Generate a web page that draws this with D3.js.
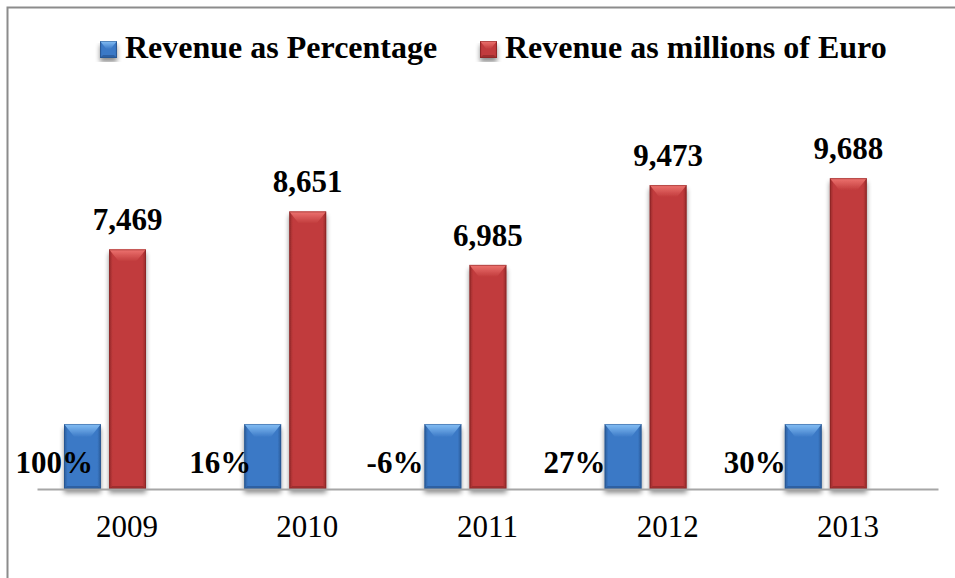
<!DOCTYPE html>
<html>
<head>
<meta charset="utf-8">
<script src="https://cdn.jsdelivr.net/npm/d3@7/dist/d3.min.js"></script>
<style>
  html, body { margin: 0; padding: 0; background: #fff; }
  svg { display: block; }
  text { font-family: "Liberation Serif", "Times New Roman", serif; fill: #000; }
</style>
</head>
<body>
<svg id="chart" width="955" height="578"></svg>
<script>
// Yearly revenue, 2009–2013
const years = ["2009", "2010", "2011", "2012", "2013"];
const revenueMillions = [7469, 8651, 6985, 9473, 9688];
const revenuePercent = ["100%", "16%", "-6%", "27%", "30%"];
// the percentage series is drawn as equal-height markers on the euro scale
const percentBarLevel = [2025, 2025, 2025, 2025, 2025];
const seriesNames = ["Revenue as Percentage", "Revenue as millions of Euro"];

// horizontal nudge of each percentage label relative to its bar's left edge
const pctLabelShift = [29, 7, -1, 1, 1];

const FONT = '"Liberation Serif", "Times New Roman", serif';
const svg = d3.select("#chart");
const W = 955, H = 578;

const palette = {
  pct: { body: "#3b79c6", light: "#86c0f6", dark: "#2a5a98", edge: "#244f87" },
  eur: { body: "#c13b3c", light: "#ee7470", dark: "#952a2b", edge: "#82201f" }
};

const defs = svg.append("defs");
const shadow = defs.append("filter").attr("id", "shadow")
  .attr("x", "-30%").attr("y", "-10%").attr("width", "160%").attr("height", "130%");
shadow.append("feGaussianBlur").attr("in", "SourceAlpha").attr("stdDeviation", 2.5);
shadow.append("feOffset").attr("dx", 0).attr("dy", 4).attr("result", "off");
shadow.append("feComponentTransfer").append("feFuncA").attr("type", "linear").attr("slope", 0.45);
const merge = shadow.append("feMerge");
merge.append("feMergeNode");
merge.append("feMergeNode").attr("in", "SourceGraphic");

// gradients for body and top bevel
Object.entries(palette).forEach(([k, c]) => {
  const g = defs.append("linearGradient").attr("id", "body-" + k)
    .attr("x1", 0).attr("x2", 1).attr("y1", 0).attr("y2", 0);
  g.append("stop").attr("offset", "0%").attr("stop-color", c.dark);
  g.append("stop").attr("offset", "10%").attr("stop-color", c.body);
  g.append("stop").attr("offset", "90%").attr("stop-color", c.body);
  g.append("stop").attr("offset", "100%").attr("stop-color", c.dark);
  const t = defs.append("linearGradient").attr("id", "top-" + k)
    .attr("x1", 0).attr("x2", 0).attr("y1", 0).attr("y2", 1);
  t.append("stop").attr("offset", "0%").attr("stop-color", c.light);
  t.append("stop").attr("offset", "100%").attr("stop-color", c.body);
});

// frame
svg.append("path")
  .attr("d", `M7.5,${H} L7.5,7.5 L${W},7.5`)
  .attr("fill", "none").attr("stroke", "#8c8c8c").attr("stroke-width", 2);

// scales
const x = d3.scaleBand().domain(years).range([37, 938]);
const x1 = d3.scaleBand().domain(["pct", "eur"]).range([27, 109]).paddingInner(0.18);
const y = d3.scaleLinear().domain([0, 12000]).range([489, 104]);

// draws a bevelled bar
function bevelBar(g, bx, by, bw, bh, key, topBevel) {
  const c = palette[key];
  const grp = g.append("g").attr("filter", "url(#shadow)");
  grp.append("rect").attr("x", bx).attr("y", by).attr("width", bw).attr("height", bh)
    .attr("fill", `url(#body-${key})`);
  const s = 3, tb = Math.min(topBevel, bh / 2), slant = Math.min(tb * 0.8, bw / 2 - 2);
  // top bevel: lighter cap with slanted inner sides
  grp.append("path")
    .attr("d", `M${bx},${by} L${bx + bw},${by} L${bx + bw - slant},${by + tb} L${bx + slant},${by + tb} Z`)
    .attr("fill", `url(#top-${key})`);
  // bottom bevel
  grp.append("path")
    .attr("d", `M${bx},${by + bh} L${bx + bw},${by + bh} L${bx + bw - s},${by + bh - s} L${bx + s},${by + bh - s} Z`)
    .attr("fill", c.dark).attr("opacity", 0.8);
  grp.append("rect").attr("x", bx + 0.5).attr("y", by + 0.5).attr("width", bw - 1).attr("height", bh - 1)
    .attr("fill", "none").attr("stroke", c.edge).attr("stroke-width", 1).attr("opacity", 0.5);
}

const plot = svg.append("g");

// axis line and year labels
const axis = svg.append("g").attr("transform", "translate(0,489)")
  .call(d3.axisBottom(x).tickSize(0).tickPadding(26).tickSizeOuter(0));
axis.attr("font-family", FONT);
axis.select(".domain").attr("stroke", "#a6a6a6").attr("stroke-width", 2);
axis.selectAll("text")
  .style("font-family", FONT)
  .attr("font-size", 31).attr("fill", "#000");

years.forEach((yr, i) => {
  const g = plot.append("g").attr("transform", `translate(${x(yr)},0)`);
  const bw = x1.bandwidth();
  // percentage marker
  const py = y(percentBarLevel[i]);
  bevelBar(g, x1("pct"), py, bw, y(0) - py, "pct", 13);
  // revenue in millions
  const ry = y(revenueMillions[i]);
  bevelBar(g, x1("eur"), ry, bw, y(0) - ry, "eur", 12);
});

// labels on top of everything
years.forEach((yr, i) => {
  const bx = x(yr);
  svg.append("text")
    .attr("x", bx + x1("eur") + x1.bandwidth() / 2)
    .attr("y", y(revenueMillions[i]) - 19)
    .attr("text-anchor", "middle")
    .style("font-family", FONT).style("font-size", "31px").style("font-weight", "700")
    .text(d3.format(",")(revenueMillions[i]));
  svg.append("text")
    .attr("x", bx + x1("pct") + pctLabelShift[i])
    .attr("y", 473)
    .attr("text-anchor", "end")
    .style("font-family", FONT).style("font-size", "31px").style("font-weight", "700")
    .text(revenuePercent[i]);
});

// legend
const legend = svg.append("g");
[[100, "pct"], [480, "eur"]].forEach(([lx, key], i) => {
  bevelBar(legend, lx, 41, 17, 17, key, 8);
  legend.append("text")
    .attr("x", lx + 25).attr("y", 58)
    .style("font-family", FONT).style("font-size", "32px").style("font-weight", "700")
    .text(seriesNames[i]);
});
</script>
</body>
</html>
